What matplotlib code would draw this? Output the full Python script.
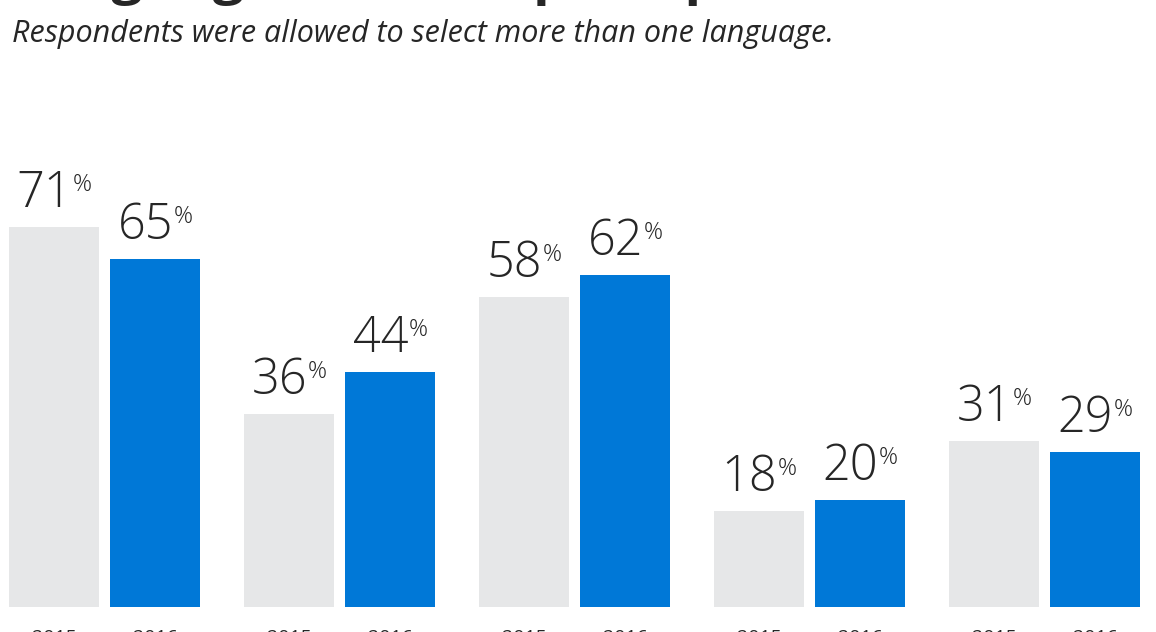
import matplotlib
matplotlib.use("Agg")
import matplotlib.pyplot as plt
import numpy as np

# Survey data: share of respondents per language, 2015 vs 2016
categories = ["A", "B", "C", "D", "E"]
years = ["2015", "2016"]
values_2015 = [71, 36, 58, 18, 31]
values_2016 = [65, 44, 62, 20, 29]

title = "Languages used in prior product releases"
subtitle = "Respondents were allowed to select more than one language."

GRAY = "#E6E7E8"
BLUE = "#0078D7"
TEXT = "#262626"

W, H = 1156, 632
fig = plt.figure(figsize=(W / 100, H / 100), dpi=100)
ax = fig.add_axes([0, 25 / H, 1, 535 / H])
ax.set_xlim(-104.5 / 235, (W - 104.5) / 235)
ax.set_ylim(0, 100)

x = np.arange(len(categories))
off, bw = 0.215, 0.379
ax.bar(x - off, values_2015, width=bw, color=GRAY, linewidth=0)
ax.bar(x + off, values_2016, width=bw, color=BLUE, linewidth=0)

for s in ax.spines.values():
    s.set_visible(False)
ax.set_yticks([])
pos = np.concatenate([x - off, x + off])
labs = [years[0]] * len(x) + [years[1]] * len(x)
ax.set_xticks(pos)
ax.set_xticklabels(labs, fontsize=14, color=TEXT, family="Open Sans")
ax.tick_params(axis="x", length=0, pad=15.5)

fig.text(10 / W, 1 + 7 / H, title, fontsize=40, fontweight="bold",
         family="Open Sans", color=TEXT, va="baseline")
fig.text(12 / W, 1 - 42 / H, subtitle, fontsize=22, fontstyle="italic",
         family="Open Sans", color=TEXT, va="baseline")

# Value labels: large light number with a small raised percent sign
fig.canvas.draw()
renderer = fig.canvas.get_renderer()
num_font = dict(fontsize=35, fontweight="light", family="Open Sans", color=TEXT)
pct_font = dict(fontsize=17, fontweight="light", family="Open Sans", color=TEXT)
for xs, vals in ((x - off, values_2015), (x + off, values_2016)):
    for xi, v in zip(xs, vals):
        cx, top = ax.transData.transform((xi, v))
        base = top + 20
        t1 = fig.text(0, base / H, f"{v}", va="baseline", ha="left", **num_font)
        t2 = fig.text(0, (base + 16) / H, "%", va="baseline", ha="left", **pct_font)
        w1 = t1.get_window_extent(renderer).width
        w2 = t2.get_window_extent(renderer).width
        gap = 0
        left = cx - (w1 + gap + w2) / 2
        t1.set_x(left / W)
        t2.set_x((left + w1 + gap) / W)

fig.savefig("out.png", dpi=100)
